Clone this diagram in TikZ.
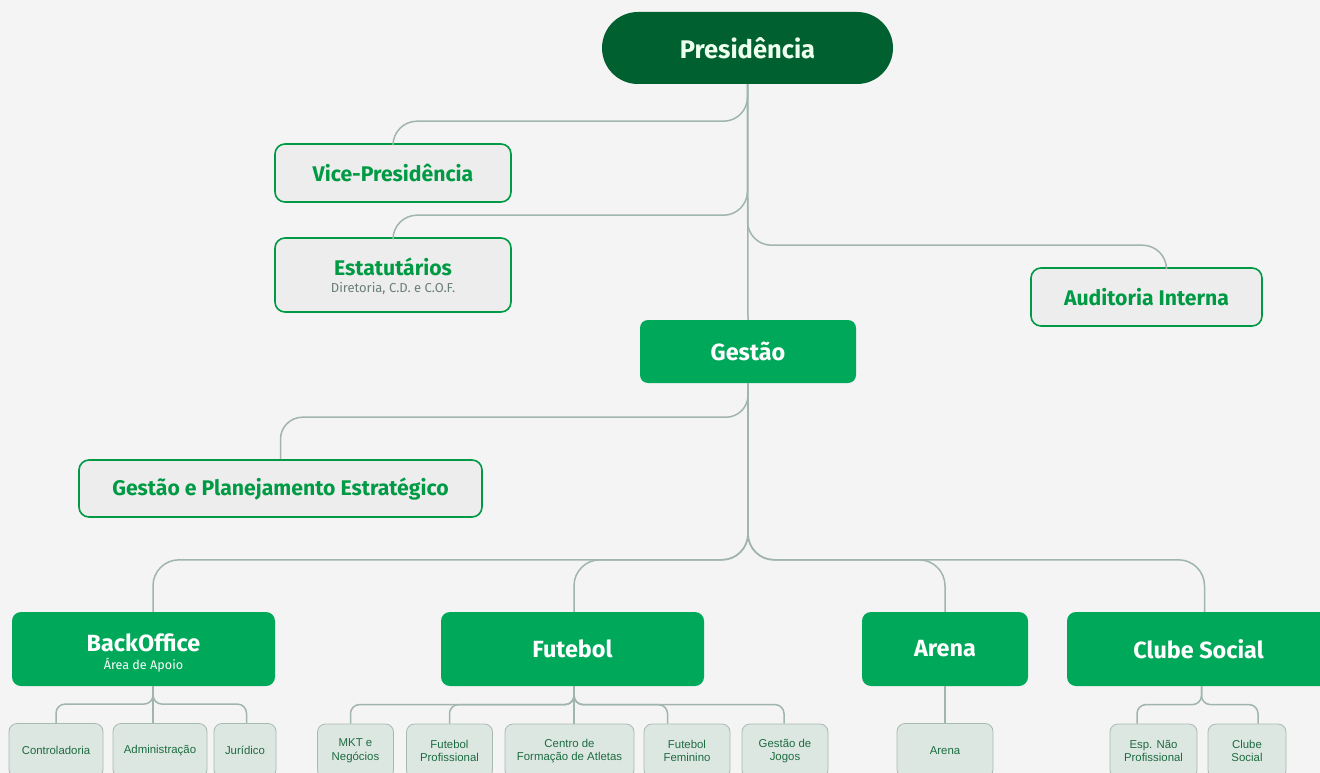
\documentclass[tikz,border=0pt]{standalone}
\usepackage{fontspec}
\setmainfont{Fira Sans}
\newfontfamily\arialfont{Liberation Sans}
\definecolor{bgcol}{HTML}{F4F4F4}
\definecolor{darkgreen}{HTML}{00602F}
\definecolor{midgreen}{HTML}{00A859}
\definecolor{linegreen}{HTML}{009A44}
\definecolor{boxgray}{HTML}{EDEDED}
\definecolor{connline}{HTML}{A0B5AD}
\definecolor{subgray}{HTML}{6B7F78}
\definecolor{leafbox}{HTML}{DDE7E2}
\definecolor{leafline}{HTML}{A6BAB1}
\definecolor{leaftext}{HTML}{1D6B40}

\begin{document}
\begin{tikzpicture}[x=1pt, y=-1pt,
	topbox/.style={fill=darkgreen, text=white!93!green, rounded corners=36pt, minimum width=291pt, minimum height=72pt, font=\fontsize{25.5}{28}\selectfont\bfseries},
	staffbox/.style={fill=boxgray, draw=linegreen, line width=1.6pt, rounded corners=10pt, text=linegreen, align=center, font=\fontsize{21.2}{23}\selectfont\bfseries},
	unitbox/.style={fill=midgreen, text=white, rounded corners=9pt, align=center, minimum height=74pt, font=\fontsize{23.4}{24}\selectfont\bfseries},
	leafbox/.style={fill=leafbox, draw=leafline, line width=0.8pt, rounded corners=8pt, minimum height=54pt, align=center, text=leaftext, font=\arialfont\fontsize{11.4}{13.5}\selectfont},
	conn/.style={draw=connline, line width=1.5pt}]
	\fill[bgcol] (0,0) rectangle (1320,773);
	\useasboundingbox (0,0) rectangle (1320,773);

	% top of the chart
	\node[topbox] (pres) at (747.5,48) {Presidência};
	\node[staffbox, minimum width=236pt, minimum height=58pt] (vice) at (393,173) {Vice-Presidência};
	\node[staffbox, minimum width=236pt, minimum height=74pt] (estat) at (393,275) {\rule{0pt}{20pt}Estatutários\\[-6pt]{\fontsize{13}{13}\selectfont\mdseries\color{subgray}Diretoria, C.D. e C.O.F.}};
	\node[staffbox, minimum width=231pt, minimum height=58pt] (aud) at (1146.5,297) {Auditoria Interna};
	\node[unitbox, minimum width=216pt, minimum height=63pt, rounded corners=8pt] (gestao) at (748,351.5) {Gestão};
	\node[staffbox, minimum width=403pt, minimum height=57pt] (gpe) at (280.5,488.5) {Gestão e Planejamento Estratégico};

	% areas
	\node[unitbox, minimum width=263pt] (bo) at (143.5,649) {\rule{0pt}{26pt}BackOffice\\[-6pt]{\fontsize{12.6}{13}\selectfont\mdseries Área de Apoio}};
	\node[unitbox, minimum width=263pt] (fut) at (572.5,649) {Futebol};
	\node[unitbox, minimum width=166pt] (arena) at (945,649) {Arena};
	\node[unitbox, minimum width=263pt] (cs) at (1198.5,649) {Clube Social};

	% leaves
	\node[leafbox, minimum width=94pt] (ctrl) at (56,750.5) {Controladoria};
	\node[leafbox, minimum width=94pt] (adm) at (160,750.5) {Administração};
	\node[leafbox, minimum width=62pt] (jur) at (245,750.5) {Jurídico};
	\node[leafbox, minimum width=76pt] (mkt) at (355.5,751) {MKT e\\Negócios};
	\node[leafbox, minimum width=86pt] (fprof) at (449.5,751) {Futebol\\Profissional};
	\node[leafbox, minimum width=129pt] (centro) at (569.5,751) {Centro de\\Formação de Atletas};
	\node[leafbox, minimum width=86pt] (ffem) at (687,751) {Futebol\\Feminino};
	\node[leafbox, minimum width=86pt] (gjogos) at (785,751) {Gestão de\\Jogos};
	\node[leafbox, minimum width=96pt] (arena2) at (945,750.5) {Arena};
	\node[leafbox, minimum width=87pt] (esp) at (1153.5,751) {Esp. Não\\Profissional};
	\node[leafbox, minimum width=78pt] (csoc) at (1247,751) {Clube\\Social};

	% connectors
	\draw[conn] (pres.south) -- (gestao.north);
	\draw[conn] (pres.south) [rounded corners=24pt] |- ([yshift=22pt]vice.north) [rounded corners=11pt] -- (vice.north);
	\draw[conn] (pres.south) [rounded corners=24pt] |- ([yshift=22pt]estat.north) [rounded corners=11pt] -- (estat.north);
	\draw[conn] (pres.south) [rounded corners=24pt] |- ([xshift=20pt,yshift=22pt]aud.north) [rounded corners=11pt] -- ([xshift=20pt]aud.north);
	\draw[conn] (gestao.south) [rounded corners=22pt] |- ([yshift=42pt]gpe.north) [rounded corners=15pt] -- (gpe.north);
	\draw[conn] (gestao.south) [rounded corners=26pt] |- ([xshift=9.5pt,yshift=52pt]bo.north) [rounded corners=24pt] -- ([xshift=9.5pt]bo.north);
	\draw[conn] (gestao.south) [rounded corners=26pt] |- ([xshift=1.5pt,yshift=52pt]fut.north) [rounded corners=24pt] -- ([xshift=1.5pt]fut.north);
	\draw[conn] (gestao.south) [rounded corners=26pt] |- ([yshift=52pt]arena.north) [rounded corners=24pt] -- (arena.north);
	\draw[conn] (gestao.south) [rounded corners=26pt] |- ([xshift=6pt,yshift=52pt]cs.north) [rounded corners=24pt] -- ([xshift=6pt]cs.north);

	\draw[conn] ([xshift=9.5pt]bo.south) [rounded corners=9pt] |- ([yshift=19pt]ctrl.north) [rounded corners=9pt] -- (ctrl.north);
	\draw[conn] ([xshift=9.5pt]bo.south) -- ([xshift=-7pt]adm.north);
	\draw[conn] ([xshift=9.5pt]bo.south) [rounded corners=9pt] |- ([xshift=1.5pt,yshift=19pt]jur.north) [rounded corners=9pt] -- ([xshift=1.5pt]jur.north);
	\draw[conn] ([xshift=1.5pt]fut.south) [rounded corners=9pt] |- ([xshift=-5pt,yshift=19pt]mkt.north) [rounded corners=9pt] -- ([xshift=-5pt]mkt.north);
	\draw[conn] ([xshift=1.5pt]fut.south) [rounded corners=9pt] |- ([yshift=19pt]fprof.north) [rounded corners=9pt] -- (fprof.north);
	\draw[conn] ([xshift=1.5pt]fut.south) -- ([xshift=4.5pt]centro.north);
	\draw[conn] ([xshift=1.5pt]fut.south) [rounded corners=9pt] |- ([xshift=-19.5pt,yshift=19pt]ffem.north) [rounded corners=9pt] -- ([xshift=-19.5pt]ffem.north);
	\draw[conn] ([xshift=1.5pt]fut.south) [rounded corners=9pt] |- ([xshift=-1pt,yshift=19pt]gjogos.north) [rounded corners=9pt] -- ([xshift=-1pt]gjogos.north);
	\draw[conn] (arena.south) -- (arena2.north);
	\draw[conn] ([xshift=3pt]cs.south) [rounded corners=9pt] |- ([xshift=-16.5pt,yshift=19pt]esp.north) [rounded corners=9pt] -- ([xshift=-16.5pt]esp.north);
	\draw[conn] ([xshift=3pt]cs.south) [rounded corners=9pt] |- ([xshift=11pt,yshift=19pt]csoc.north) [rounded corners=9pt] -- ([xshift=11pt]csoc.north);
\end{tikzpicture}
\end{document}
